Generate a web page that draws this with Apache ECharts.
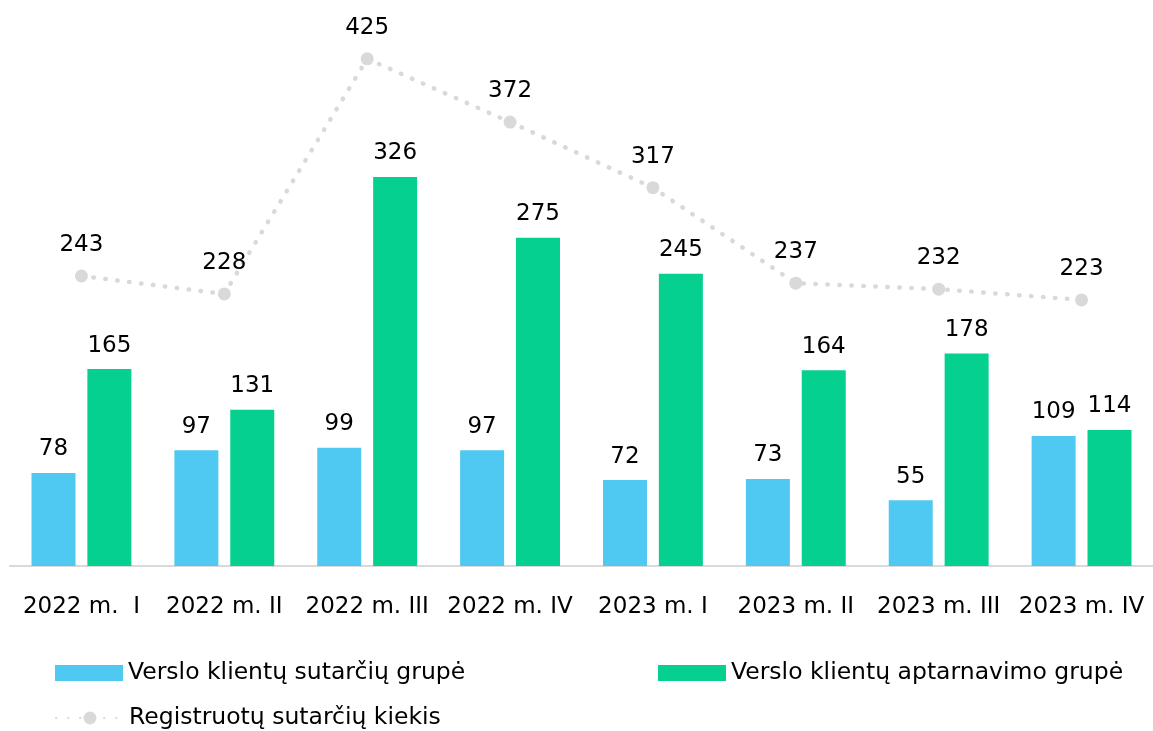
<!DOCTYPE html>
<html>
<head>
<meta charset="utf-8">
<script src="https://cdn.jsdelivr.net/npm/echarts@6/dist/echarts.min.js"></script>
<style>html,body{margin:0;padding:0;background:#fff}#c{width:1153px;height:731px}</style>
</head>
<body>
<div id="c"></div>
<script>
const categories = ['2022 m.  I','2022 m. II','2022 m. III','2022 m. IV','2023 m. I','2023 m. II','2023 m. III','2023 m. IV'];
const sutarciuGrupe = [78, 97, 99, 97, 72, 73, 55, 109];
const aptarnavimoGrupe = [165, 131, 326, 275, 245, 164, 178, 114];
const registruotuKiekis = [243, 228, 425, 372, 317, 237, 232, 223];
const seriesNames = ['Verslo klientų sutarčių grupė','Verslo klientų aptarnavimo grupė','Registruotų sutarčių kiekis'];

const FONT = 'Tahoma, Verdana, "DejaVu Sans", sans-serif';
const chart = echarts.init(document.getElementById('c'));
const legendText = {fontFamily: FONT, fontSize: 23.5, color: '#000'};
chart.setOption({
  animation: false,
  textStyle: {fontFamily: FONT},
  grid: {left: 10, width: 1147, top: 29, height: 537},
  xAxis: {
    type: 'category', data: categories,
    axisLine: {lineStyle: {color: '#d9d9d9', width: 2}},
    axisTick: {show: false},
    axisLabel: {fontFamily: FONT, fontSize: 23, color: '#000', margin: 30, interval: 0}
  },
  yAxis: {type: 'value', min: 0, max: 450, show: false, splitLine: {show: false}},
  legend: [
    {left: 50, top: 656, itemWidth: 68, itemHeight: 16, textStyle: legendText, data: [{name: seriesNames[0], icon: 'rect'}]},
    {left: 653, top: 656, itemWidth: 68, itemHeight: 16, textStyle: legendText, data: [{name: seriesNames[1], icon: 'rect'}]},
    {left: 50, top: 701, itemWidth: 68, itemHeight: 16, textStyle: legendText, data: [seriesNames[2]]}
  ],
  series: [
    {
      name: seriesNames[0], type: 'bar', data: sutarciuGrupe, barWidth: 44, barGap: '27%',
      itemStyle: {color: '#50C9F2'},
      label: {show: true, position: 'top', distance: 12, fontFamily: FONT, fontSize: 23, color: '#000'}
    },
    {
      name: seriesNames[1], type: 'bar', data: aptarnavimoGrupe, barWidth: 44,
      itemStyle: {color: '#06D08F'},
      label: {show: true, position: 'top', distance: 12, fontFamily: FONT, fontSize: 23, color: '#000'}
    },
    {
      name: seriesNames[2], type: 'line', data: registruotuKiekis,
      symbol: 'circle', symbolSize: 13,
      itemStyle: {color: '#d9d9d9'},
      lineStyle: {color: '#d9d9d9', width: 4.5, type: [0.5, 11.5], cap: 'round'},
      label: {show: true, position: 'top', distance: 13, fontFamily: FONT, fontSize: 23, color: '#000'}
    }
  ]
});
</script>
</body>
</html>
